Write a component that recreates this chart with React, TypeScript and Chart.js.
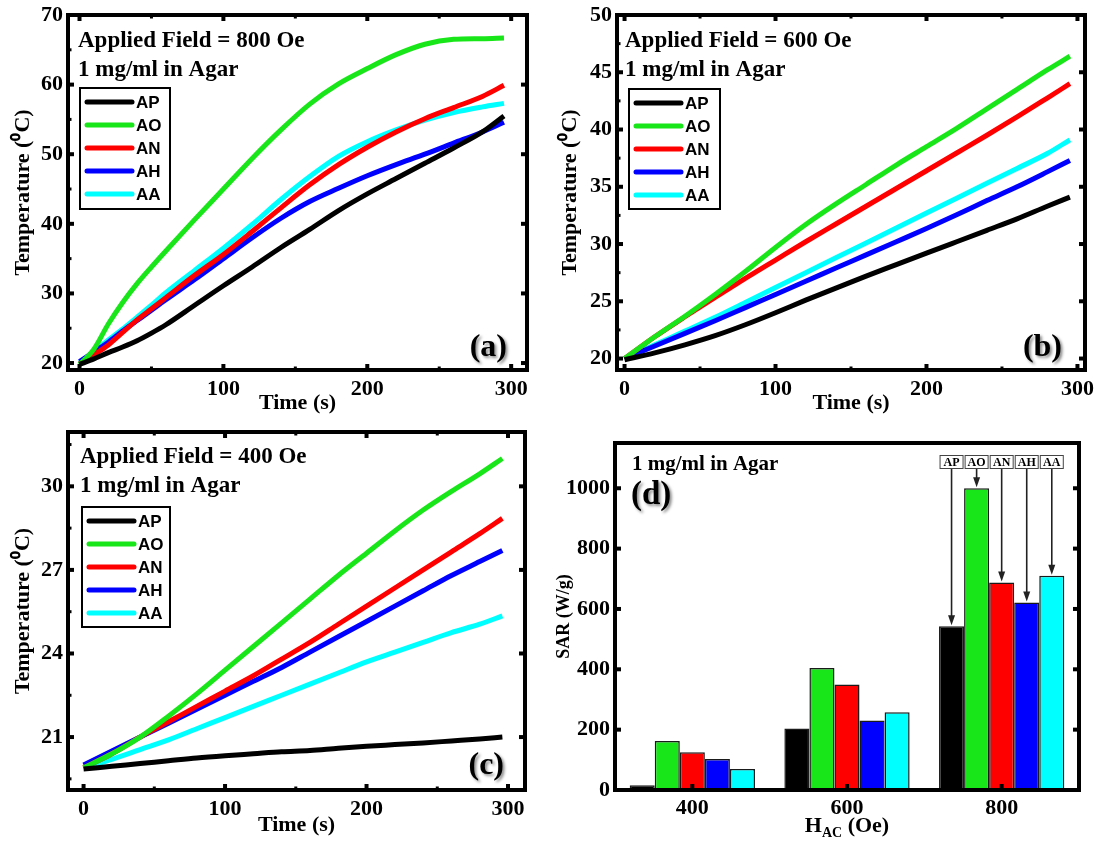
import React, { useEffect, useRef } from 'react';
import { Chart, registerables } from 'chart.js';
Chart.register(...registerables);

const SERIES = ['AP', 'AO', 'AN', 'AH', 'AA'];
const COLORS = ['#000000', '#19e619', '#ff0000', '#0000ff', '#00ffff'];

// ---- Panel (a): 800 Oe ----
const TIME_A = [0, 10, 20, 30, 40, 50, 60, 80, 100, 120, 140, 160, 180, 200, 220, 240, 260, 280, 295];
const A_AP = [19.8, 20.6, 21.5, 22.3, 23.2, 24.3, 25.5, 28.3, 31.1, 33.8, 36.6, 39.2, 41.9, 44.3, 46.5, 48.7, 50.9, 53.2, 55.5];
const A_AO = [19.8, 22.0, 25.6, 28.7, 31.4, 33.8, 36.1, 40.6, 45.0, 49.4, 53.5, 57.2, 60.1, 62.3, 64.3, 65.8, 66.5, 66.6, 66.7];
const A_AN = [19.9, 21.2, 22.6, 24.4, 26.2, 27.8, 29.4, 32.6, 35.6, 38.9, 42.3, 45.6, 48.5, 51.0, 53.2, 55.1, 56.7, 58.3, 59.9];
const A_AH = [20.2, 21.6, 23.0, 24.6, 26.1, 27.6, 29.1, 32.0, 35.0, 38.0, 40.8, 43.2, 45.1, 46.9, 48.5, 50.0, 51.6, 53.2, 54.6];
const A_AA = [20.0, 21.6, 23.3, 24.9, 26.6, 28.3, 30.1, 33.3, 36.5, 39.9, 43.5, 46.8, 49.7, 51.8, 53.5, 54.9, 56.0, 56.8, 57.3];

// ---- Panel (b): 600 Oe ----
const TIME_B = [0, 20, 40, 60, 80, 100, 120, 140, 160, 180, 200, 220, 240, 260, 280, 295];
const B_AP = [19.9, 20.5, 21.2, 22.0, 22.95, 24.0, 25.1, 26.15, 27.2, 28.2, 29.2, 30.2, 31.2, 32.2, 33.3, 34.1];
const B_AO = [20.0, 21.9, 23.7, 25.6, 27.6, 29.7, 31.7, 33.5, 35.2, 36.9, 38.5, 40.1, 41.8, 43.5, 45.2, 46.4];
const B_AN = [20.0, 21.9, 23.65, 25.35, 27.0, 28.6, 30.2, 31.75, 33.3, 34.85, 36.4, 37.95, 39.5, 41.1, 42.75, 44.0];
const B_AH = [20.0, 21.1, 22.2, 23.3, 24.45, 25.6, 26.75, 27.9, 29.05, 30.2, 31.35, 32.55, 33.8, 35.0, 36.3, 37.3];
const B_AA = [20.0, 21.2, 22.4, 23.6, 24.9, 26.2, 27.5, 28.8, 30.1, 31.4, 32.7, 34.0, 35.3, 36.6, 37.9, 39.1];

// ---- Panel (c): 400 Oe ----
const TIME_C = [0, 20, 40, 60, 80, 100, 120, 140, 160, 180, 200, 220, 240, 260, 280, 296];
const C_AP = [19.85, 19.95, 20.05, 20.15, 20.25, 20.33, 20.4, 20.47, 20.52, 20.6, 20.67, 20.73, 20.79, 20.86, 20.93, 21.0];
const C_AO = [19.9, 20.4, 21.0, 21.75, 22.55, 23.4, 24.25, 25.1, 25.95, 26.8, 27.6, 28.4, 29.15, 29.82, 30.45, 31.0];
const C_AN = [19.9, 20.4, 21.0, 21.55, 22.1, 22.65, 23.2, 23.8, 24.4, 25.05, 25.7, 26.35, 27.0, 27.65, 28.3, 28.85];
const C_AH = [20.0, 20.5, 21.0, 21.5, 22.0, 22.5, 23.0, 23.5, 24.05, 24.6, 25.15, 25.7, 26.25, 26.8, 27.3, 27.7];
const C_AA = [19.9, 20.2, 20.55, 20.9, 21.3, 21.7, 22.1, 22.5, 22.9, 23.3, 23.7, 24.05, 24.4, 24.75, 25.05, 25.35];

// ---- Panel (d): SAR ----
const FIELDS = ['400', '600', '800'];
const SAR_AP = [16, 204, 543];
const SAR_AO = [162, 404, 1000];
const SAR_AN = [125, 350, 688];
const SAR_AH = [103, 230, 621];
const SAR_AA = [70, 258, 710];

// ---- Tick labels ----
const X_TICKS = [0, 100, 200, 300];
const Y_TICKS_A = [20, 30, 40, 50, 60, 70];
const Y_TICKS_B = [20, 25, 30, 35, 40, 45, 50];
const Y_TICKS_C = [21, 24, 27, 30];
const Y_TICKS_D = [0, 200, 400, 600, 800, 1000];

const SERIF = "'Liberation Serif', 'Times New Roman', Times, serif";
const SANS = "'Liberation Sans', Arial, Helvetica, sans-serif";

function minorValues(ticks: number[], min: number, max: number) {
  if (ticks.length < 2) return [];
  const step = ticks[1] - ticks[0];
  const out: number[] = [];
  out.push(ticks[0] - step / 2);
  ticks.forEach((v) => out.push(v + step / 2));
  return out.filter((v) => v > min && v < max);
}

const framePlugin = {
  id: 'frame',
  afterDraw(chart: any, _a: any, opts: any) {
    const { ctx } = chart;
    const { left, top, right, bottom } = chart.chartArea;
    const xs = chart.scales.x;
    const ys = chart.scales.y;
    ctx.save();
    ctx.strokeStyle = '#000';
    ctx.lineCap = 'butt';
    const seg = (x1: number, y1: number, x2: number, y2: number, w: number) => {
      ctx.lineWidth = w;
      ctx.beginPath();
      ctx.moveTo(x1, y1);
      ctx.lineTo(x2, y2);
      ctx.stroke();
    };
    const maj = 6, mnr = 3.5;
    xs.ticks.forEach((_t: any, i: number) => {
      const px = xs.getPixelForTick(i);
      seg(px, bottom, px, bottom - maj, 4);
      if (opts.topTicks) seg(px, top, px, top + maj, 4);
    });
    if (opts.xMinor) {
      minorValues(xs.ticks.map((t: any) => t.value), xs.min, xs.max).forEach((v) => {
        const px = xs.getPixelForValue(v);
        seg(px, bottom, px, bottom - mnr, 3);
        seg(px, top, px, top + mnr, 3);
      });
    }
    ys.ticks.forEach((_t: any, i: number) => {
      const py = ys.getPixelForTick(i);
      seg(left, py, left + maj, py, 4);
      seg(right, py, right - maj, py, 4);
    });
    if (opts.yMinor) {
      minorValues(ys.ticks.map((t: any) => t.value), ys.min, ys.max).forEach((v) => {
        const py = ys.getPixelForValue(v);
        seg(left, py, left + mnr, py, 3);
      });
    }
    ctx.lineWidth = 4;
    ctx.strokeRect(left, top, right - left, bottom - top);
    ctx.restore();
  },
};

const textPlugin = {
  id: 'texts',
  afterDraw(chart: any, _a: any, opts: any) {
    const { ctx } = chart;
    const ca = chart.chartArea;
    ctx.save();
    (opts.items || []).forEach((it: any) => {
      const x = it.anchor === 'br' ? ca.right + it.dx : ca.left + it.dx;
      const y = it.anchor === 'br' ? ca.bottom + it.dy : ca.top + it.dy;
      ctx.font = `bold ${it.size}px ${SERIF}`;
      ctx.fillStyle = '#000';
      ctx.textAlign = it.align || 'left';
      ctx.textBaseline = 'alphabetic';
      if (it.shadow) {
        ctx.shadowColor = 'rgba(0,0,0,0.45)';
        ctx.shadowBlur = 3;
        ctx.shadowOffsetX = 2;
        ctx.shadowOffsetY = 2;
      } else {
        ctx.shadowColor = 'transparent';
        ctx.shadowBlur = 0;
        ctx.shadowOffsetX = 0;
        ctx.shadowOffsetY = 0;
      }
      ctx.fillText(it.text, x, y);
    });
    ctx.restore();
  },
};

const boxLegendPlugin = {
  id: 'boxLegend',
  afterDraw(chart: any, _a: any, opts: any) {
    if (!opts || !opts.show) return;
    const { ctx } = chart;
    const ca = chart.chartArea;
    const x0 = ca.left + opts.dx;
    const y0 = ca.top + opts.dy;
    ctx.save();
    ctx.fillStyle = '#fff';
    ctx.fillRect(x0, y0, opts.w, opts.h);
    ctx.strokeStyle = '#000';
    ctx.lineWidth = 2;
    ctx.strokeRect(x0, y0, opts.w, opts.h);
    chart.data.datasets.forEach((ds: any, i: number) => {
      const y = y0 + opts.first + i * opts.rowH;
      ctx.strokeStyle = ds.borderColor;
      ctx.lineWidth = 5;
      ctx.lineCap = 'round';
      ctx.beginPath();
      ctx.moveTo(x0 + 7, y);
      ctx.lineTo(x0 + 52, y);
      ctx.stroke();
      ctx.fillStyle = '#000';
      ctx.font = `bold 17px ${SANS}`;
      ctx.textAlign = 'left';
      ctx.textBaseline = 'middle';
      ctx.fillText(ds.label, x0 + 56, y + 1);
    });
    ctx.restore();
  },
};

const arrowPlugin = {
  id: 'arrows',
  afterDraw(chart: any, _a: any, opts: any) {
    if (!opts || !opts.show) return;
    const { ctx } = chart;
    const ca = chart.chartArea;
    const gi = opts.group;
    ctx.save();
    chart.data.datasets.forEach((ds: any, i: number) => {
      const bar = chart.getDatasetMeta(i).data[gi];
      const cx = bar.x;
      const topY = bar.y;
      const bw = 24, bh = 14;
      const by = ca.top + opts.boxTop;
      ctx.fillStyle = '#fff';
      ctx.fillRect(cx - bw / 2, by, bw, bh);
      ctx.strokeStyle = '#444';
      ctx.lineWidth = 1;
      ctx.strokeRect(cx - bw / 2 + 0.5, by + 0.5, bw - 1, bh - 1);
      ctx.fillStyle = '#000';
      ctx.font = `bold 12px ${SERIF}`;
      ctx.textAlign = 'center';
      ctx.textBaseline = 'middle';
      ctx.fillText(ds.label, cx, by + bh / 2 + 1);
      const y1 = by + bh;
      const y2 = topY - 1;
      ctx.strokeStyle = '#222';
      ctx.lineWidth = 1.6;
      ctx.beginPath();
      ctx.moveTo(cx, y1);
      ctx.lineTo(cx, y2 - 8);
      ctx.stroke();
      ctx.fillStyle = '#222';
      ctx.beginPath();
      ctx.moveTo(cx, y2);
      ctx.lineTo(cx - 3.5, y2 - 10);
      ctx.lineTo(cx + 3.5, y2 - 10);
      ctx.closePath();
      ctx.fill();
    });
    ctx.restore();
  },
};

const hacTitlePlugin = {
  id: 'hacTitle',
  afterDraw(chart: any, _a: any, opts: any) {
    if (!opts || !opts.show) return;
    const { ctx } = chart;
    const ca = chart.chartArea;
    const big = `bold 22px ${SERIF}`;
    const small = `bold 14px ${SERIF}`;
    ctx.save();
    ctx.fillStyle = '#000';
    ctx.textBaseline = 'alphabetic';
    ctx.textAlign = 'left';
    ctx.font = big;
    const wH = ctx.measureText('H').width;
    const wR = ctx.measureText(' (Oe)').width;
    ctx.font = small;
    const wS = ctx.measureText('AC').width;
    const total = wH + wS + wR;
    let x = (ca.left + ca.right) / 2 - total / 2;
    const y = ca.bottom + opts.dy;
    ctx.font = big;
    ctx.fillText('H', x, y);
    x += wH;
    ctx.font = small;
    ctx.fillText('AC', x, y + 5);
    x += wS;
    ctx.font = big;
    ctx.fillText(' (Oe)', x, y);
    ctx.restore();
  },
};

const tickFont = { family: SERIF, size: 22, weight: 'bold' as const };
const plainLabel = (v: any) => String(v);

function lineConfig(p: any) {
  return {
    type: 'line',
    data: {
      datasets: SERIES.map((name, i) => ({
        label: name,
        data: p.times.map((t: number, k: number) => ({ x: t, y: p.values[i][k] })),
        borderColor: COLORS[i],
        backgroundColor: COLORS[i],
        borderWidth: 5,
        pointRadius: 0,
        cubicInterpolationMode: 'monotone',
        fill: false,
      })),
    },
    options: {
      responsive: false,
      animation: false,
      devicePixelRatio: 1,
      layout: { padding: p.padding },
      plugins: {
        legend: { display: false },
        tooltip: { enabled: false },
        frame: { topTicks: true, xMinor: true, yMinor: true },
        texts: { items: p.texts },
        boxLegend: { show: true, ...p.legend },
      },
      scales: {
        x: {
          type: 'linear',
          min: p.xMin,
          max: p.xMax,
          grid: { display: false, drawTicks: false },
          border: { display: false },
          ticks: { font: tickFont, color: '#000', padding: 6, maxRotation: 0, autoSkip: false, callback: plainLabel },
          afterBuildTicks: (s: any) => { s.ticks = X_TICKS.map((v) => ({ value: v })); },
          afterFit: (s: any) => { s.height = p.xh; s.paddingLeft = 0; s.paddingRight = 0; },
          title: { display: true, text: 'Time (s)', font: tickFont, color: '#000', padding: { top: 0, bottom: p.xTitlePad } },
        },
        y: {
          type: 'linear',
          min: p.yMin,
          max: p.yMax,
          grid: { display: false, drawTicks: false },
          border: { display: false },
          ticks: { font: tickFont, color: '#000', padding: 5, autoSkip: false, callback: plainLabel },
          afterBuildTicks: (s: any) => { s.ticks = p.yTicks.map((v: number) => ({ value: v })); },
          afterFit: (s: any) => { s.width = p.yw; s.paddingTop = 0; s.paddingBottom = 0; },
          title: { display: true, text: 'Temperature (⁰C)', font: tickFont, color: '#000', padding: { top: 10, bottom: 0 } },
        },
      },
    },
    plugins: [framePlugin, textPlugin, boxLegendPlugin],
  };
}

function barConfig() {
  const values = [SAR_AP, SAR_AO, SAR_AN, SAR_AH, SAR_AA];
  return {
    type: 'bar',
    data: {
      labels: FIELDS,
      datasets: SERIES.map((name, i) => ({
        label: name,
        data: values[i],
        backgroundColor: COLORS[i],
        borderColor: '#1a1a1a',
        borderWidth: 1.5,
        categoryPercentage: 0.81,
        barPercentage: 1.0,
      })),
    },
    options: {
      responsive: false,
      animation: false,
      devicePixelRatio: 1,
      layout: { padding: { left: 0, right: 15, top: 23, bottom: 0 } },
      plugins: {
        legend: { display: false },
        tooltip: { enabled: false },
        frame: { topTicks: false, xMinor: false, yMinor: false },
        texts: {
          items: [
            { text: '1 mg/ml in Agar', anchor: 'tl', dx: 17, dy: 27, size: 21 },
            { text: '(d)', anchor: 'tl', dx: 16, dy: 61, size: 33, shadow: true },
          ],
        },
        arrows: { show: true, group: 2, boxTop: 12 },
        hacTitle: { show: true, dy: 42 },
      },
      scales: {
        x: {
          type: 'category',
          grid: { display: false, drawTicks: false },
          border: { display: false },
          ticks: { font: tickFont, color: '#000', padding: 5, maxRotation: 0 },
          afterFit: (s: any) => { s.height = 51; s.paddingLeft = 0; s.paddingRight = 0; },
          title: { display: false },
        },
        y: {
          type: 'linear',
          min: 0,
          max: 1150,
          grid: { display: false, drawTicks: false },
          border: { display: false },
          ticks: { font: tickFont, color: '#000', padding: 5, autoSkip: false, callback: plainLabel },
          afterBuildTicks: (s: any) => { s.ticks = Y_TICKS_D.map((v) => ({ value: v })); },
          afterFit: (s: any) => { s.width = 68; s.paddingTop = 0; s.paddingBottom = 0; },
          title: { display: true, text: 'SAR (W/g)', font: { family: SERIF, size: 18, weight: 'bold' }, color: '#000', padding: { top: 7, bottom: 0 } },
        },
      },
    },
    plugins: [framePlugin, textPlugin, arrowPlugin, hacTitlePlugin],
  };
}

const PANEL_A = {
  times: TIME_A, values: [A_AP, A_AO, A_AN, A_AH, A_AA],
  xMin: -8, xMax: 311, yMin: 19, yMax: 70, yTicks: Y_TICKS_A,
  padding: { left: 0, right: 20, top: 15, bottom: 0 }, yw: 68, xh: 50, xTitlePad: 3,
  texts: [
    { text: 'Applied Field = 800 Oe', anchor: 'tl', dx: 10, dy: 32, size: 23 },
    { text: '1 mg/ml in Agar', anchor: 'tl', dx: 10, dy: 61, size: 23 },
    { text: '(a)', anchor: 'br', dx: -20, dy: -14, size: 32, align: 'right', shadow: true },
  ],
  legend: { dx: 12, dy: 73, w: 90, h: 121, first: 14, rowH: 23 },
};

const PANEL_B = {
  times: TIME_B, values: [B_AP, B_AO, B_AN, B_AH, B_AA],
  xMin: -5, xMax: 305, yMin: 19, yMax: 50, yTicks: Y_TICKS_B,
  padding: { left: 0, right: 9, top: 15, bottom: 0 }, yw: 70, xh: 50, xTitlePad: 3,
  texts: [
    { text: 'Applied Field = 600 Oe', anchor: 'tl', dx: 8, dy: 32, size: 23 },
    { text: '1 mg/ml in Agar', anchor: 'tl', dx: 8, dy: 61, size: 23 },
    { text: '(b)', anchor: 'br', dx: -23, dy: -14, size: 32, align: 'right', shadow: true },
  ],
  legend: { dx: 12, dy: 74, w: 91, h: 120, first: 14, rowH: 23 },
};

const PANEL_C = {
  times: TIME_C, values: [C_AP, C_AO, C_AN, C_AH, C_AA],
  xMin: -11, xMax: 312, yMin: 19.1, yMax: 31.95, yTicks: Y_TICKS_C,
  padding: { left: 0, right: 22, top: 12, bottom: 0 }, yw: 68, xh: 51, xTitlePad: 2,
  texts: [
    { text: 'Applied Field = 400 Oe', anchor: 'tl', dx: 12, dy: 31, size: 23 },
    { text: '1 mg/ml in Agar', anchor: 'tl', dx: 12, dy: 60, size: 23 },
    { text: '(c)', anchor: 'br', dx: -21, dy: -16, size: 32, align: 'right', shadow: true },
  ],
  legend: { dx: 14, dy: 75, w: 88, h: 120, first: 14, rowH: 23 },
};

function Panel({ x, y, w, h, build }: { x: number; y: number; w: number; h: number; build: () => any }) {
  const ref = useRef<HTMLCanvasElement>(null);
  useEffect(() => {
    const chart = new Chart(ref.current as HTMLCanvasElement, build());
    return () => chart.destroy();
  }, []);
  return (
    <canvas
      ref={ref}
      width={w}
      height={h}
      style={{ position: 'absolute', left: x, top: y, width: w, height: h, display: 'block' }}
    />
  );
}

export default function App() {
  return (
    <div style={{ position: 'absolute', left: 0, top: 0, width: 1094, height: 841, background: '#fff', overflow: 'hidden' }}>
      <Panel x={0} y={0} w={547} h={420} build={() => lineConfig(PANEL_A)} />
      <Panel x={547} y={0} w={547} h={420} build={() => lineConfig(PANEL_B)} />
      <Panel x={0} y={420} w={547} h={421} build={() => lineConfig(PANEL_C)} />
      <Panel x={547} y={420} w={547} h={421} build={() => barConfig()} />
    </div>
  );
}
